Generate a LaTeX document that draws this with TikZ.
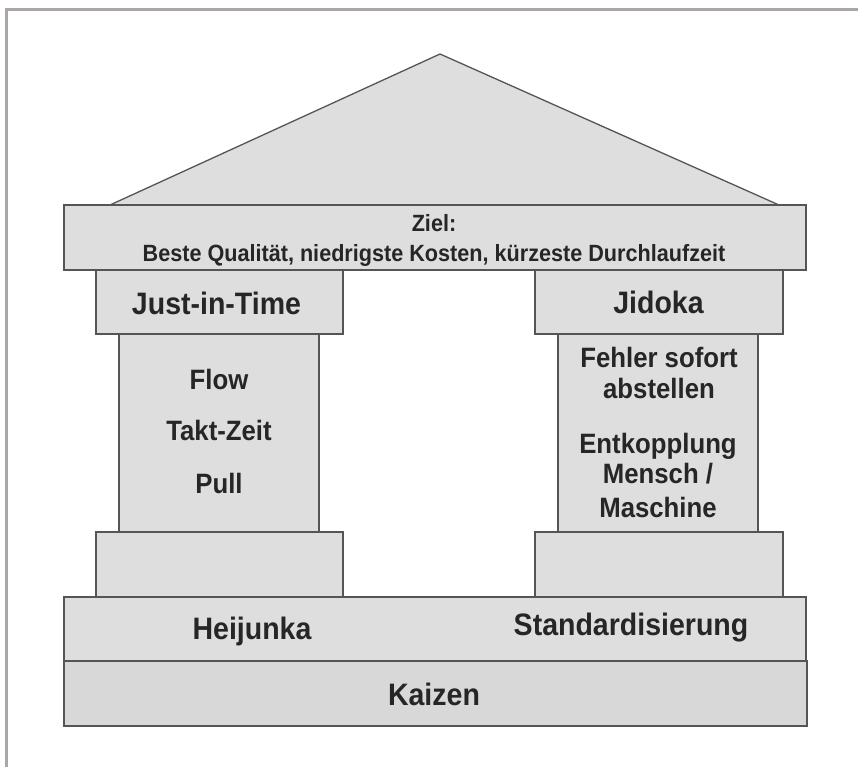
\documentclass[tikz,border=0pt]{standalone}
\usepackage{fontspec}
\setmainfont{Liberation Sans}[FakeStretch=0.92]

\definecolor{framegray}{HTML}{ADA6A6}
\definecolor{edgegray}{HTML}{555555}
\definecolor{stone}{HTML}{DEDEDE}
\definecolor{stonedark}{HTML}{D8D8D8}
\definecolor{ink}{HTML}{262626}

\begin{document}
\begin{tikzpicture}[x=1pt, y=-1pt,
  block/.style={draw=edgegray, fill=stone, line width=1.3pt, rectangle,
                inner sep=0pt, outer sep=0pt},
  label/.style={text=ink, anchor=base, inner sep=0pt, outer sep=0pt},
  headtext/.style={label, font=\bfseries\fontsize{31}{31}\selectfont},
  itemtext/.style={label, font=\bfseries\fontsize{28}{28}\selectfont},
  goaltext/.style={label, font=\bfseries\fontsize{23.5}{23.5}\selectfont}]

  % page size
  \useasboundingbox (0,0) rectangle (858,767);

  % outer frame (top and left edges only)
  \draw[framegray, line width=3pt] (6.5,767) -- (6.5,9.5) -- (858,9.5);

  % roof
  \coordinate (apex)  at (440,54);
  \coordinate (roofL) at (110,205);
  \coordinate (roofR) at (779,205);
  \draw[block] (roofL) -- (apex) -- (roofR) -- cycle;

  % beam with the goal
  \node[block, minimum width=742pt, minimum height=65pt] (beam) at (435,237.5) {};

  % left pillar: Just-in-Time
  \node[block, minimum width=247pt, minimum height=64pt]  (jitcap)   at (219.5,302) {};
  \node[block, minimum width=200pt, minimum height=198pt] (jitshaft) at (219,433) {};
  \node[block, minimum width=247pt, minimum height=65pt]  (jitbase)  at (219.5,564.5) {};

  % right pillar: Jidoka
  \node[block, minimum width=248pt, minimum height=64pt]  (jidcap)   at (659,302) {};
  \node[block, minimum width=200pt, minimum height=198pt] (jidshaft) at (658,433) {};
  \node[block, minimum width=248pt, minimum height=65pt]  (jidbase)  at (659,564.5) {};

  % foundation
  \node[block, minimum width=742pt, minimum height=64pt] (stand) at (435,629) {};
  \node[block, fill=stonedark, minimum width=743pt, minimum height=65pt] (kaizen) at (435.5,693.5) {};

  % texts
  \node[goaltext] (goalhead) at (434,232) {Ziel:};
  \node[goaltext] (goalline) at (434,261) {Beste Qualität, niedrigste Kosten, kürzeste Durchlaufzeit};

  \node[headtext] (jit) at (216.5,314) {Just-in-Time};
  \node[itemtext] (flow) at (219,389) {Flow};
  \node[itemtext] (takt) at (219,440) {Takt-Zeit};
  \node[itemtext] (pull) at (219,493) {Pull};

  \node[headtext] (jidoka) at (658.5,313) {Jidoka};
  \node[itemtext] (fehler)  at (659,367) {Fehler sofort};
  \node[itemtext] (abst)    at (659,398) {abstellen};
  \node[itemtext] (entk)    at (658,453) {Entkopplung};
  \node[itemtext] (mensch)  at (658,483) {Mensch /};
  \node[itemtext] (masch)   at (658,517) {Maschine};

  \node[headtext] (heijunka) at (252,639) {Heijunka};
  \node[headtext] (standard) at (631,635) {Standardisierung};
  \node[headtext] (kaizentext) at (434,705) {Kaizen};
\end{tikzpicture}
\end{document}
